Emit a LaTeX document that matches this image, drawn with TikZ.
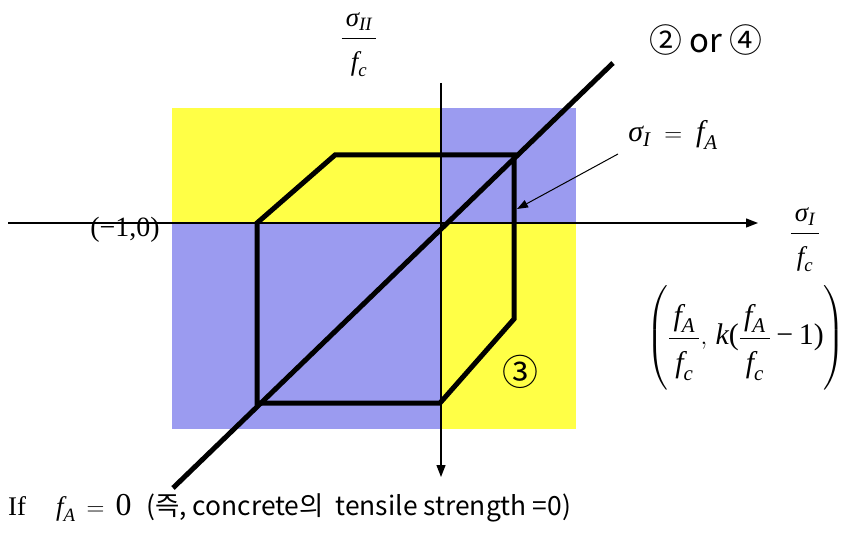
\documentclass[tikz,border=0pt]{standalone}
\usepackage{amsmath}
\usepackage{fontspec}
\setmainfont{Liberation Serif}
\newfontfamily\kr{Noto Sans CJK KR}
\usetikzlibrary{arrows.meta}
\definecolor{ylw}{RGB}{255,255,70}
\definecolor{blu}{RGB}{155,155,240}
\newcommand\mi[1]{\mathord{\textit{#1}}}
\newcommand\sg{\mi{σ}}
\newcommand\wfrac[2]{\dfrac{\rule[-0.3em]{0pt}{0.3em}\,#1\,}{\rule{0pt}{1.05em}#2}}
\tikzset{
  axisline/.style={line width=1.3bp, -{Triangle[length=12bp,width=9bp]}},
  thickline/.style={line width=5bp, line join=miter},
  pointer/.style={line width=1bp, -{Triangle[length=11bp,width=8bp]}},
  mlbl/.style={inner sep=0pt, font=\fontsize{27}{32}\selectfont},
  krlbl/.style={inner sep=0pt, font=\kr\fontsize{33}{38}\selectfont},
}
\begin{document}
\begin{tikzpicture}[x=1bp,y=-1bp]
\useasboundingbox (0,0) rectangle (853,539);
% shaded quadrants
\fill[ylw] (172,108) rectangle (441,223);
\fill[blu] (441,108) rectangle (576,223);
\fill[blu] (172,223) rectangle (441,429);
\fill[ylw] (441,223) rectangle (576,429);
% axes
\coordinate (xl) at (8,223);
\coordinate (xr) at (758,223);
\coordinate (yt) at (441,83);
\coordinate (yb) at (441,477);
\draw[axisline] (xl) -- (xr);
\draw[axisline] (yt) -- (yb);
% hexagon
\coordinate (h1) at (257,223);
\coordinate (h2) at (335,155);
\coordinate (h3) at (514,155);
\coordinate (h4) at (514,319);
\coordinate (h5) at (440,403);
\coordinate (h6) at (257,403);
\draw[thickline] (h1) -- (h2) -- (h3) -- (h4) -- (h5) -- (h6) -- cycle;
% diagonal
\coordinate (d1) at (173,488);
\coordinate (d2) at (613,63);
\draw[line width=5bp] (d1) -- (d2);
% labels
\node[mlbl] (ylab) at (359,45) {$\wfrac{\sg_{\mi{II}}}{\mi{f}_{\mi{c}}}$};
\node[mlbl] (xlab) at (805,240) {$\wfrac{\sg_{\mi{I}}}{\mi{f}_{\mi{c}}}$};
\node[mlbl, font=\fontsize{28}{32}\selectfont] (m1) at (125,230) {(−1,0)};
\node[mlbl, font=\fontsize{30}{34}\selectfont] (sfa) at (673,135) {$\sg_{\mi{I}} \;=\; \mi{f}_{\mi{A}}$};
\node[mlbl, font=\fontsize{30}{35}\selectfont] (pt) at (746,338) {$\left(\vcenter{\hrule height 3.3em width 0pt}\wfrac{\mi{f}_{\mi{A}}}{\mi{f}_{\mi{c}}},\,\mi{k}\text{(}\wfrac{\mi{f}_{\mi{A}}}{\mi{f}_{\mi{c}}}\mathbin{\text{−}}\text{1)}\right)$};
\node[krlbl] (c24) at (706,40) {② or ④};
\node[krlbl, font=\kr\fontsize{36}{40}\selectfont] (c3) at (520,372) {③};
% pointer
\coordinate (ptip) at (517,209);
\coordinate (ptail) at (618,154);
\draw[pointer] (ptail) -- (ptip);
% bottom text
\node[mlbl, anchor=base west] (if) at (8,515) {If};
\node[mlbl, anchor=base west] (fa0) at (56,515) {$\mi{f}_{\mi{A}}\,=\,\mbox{\fontsize{32}{36}\selectfont 0}$};
\node[inner sep=0pt, font=\kr\fontsize{26.5}{31}\selectfont, anchor=base west] (note) at (146,515) {(즉, concrete의\ \ tensile strength =0)};
\end{tikzpicture}
\end{document}
